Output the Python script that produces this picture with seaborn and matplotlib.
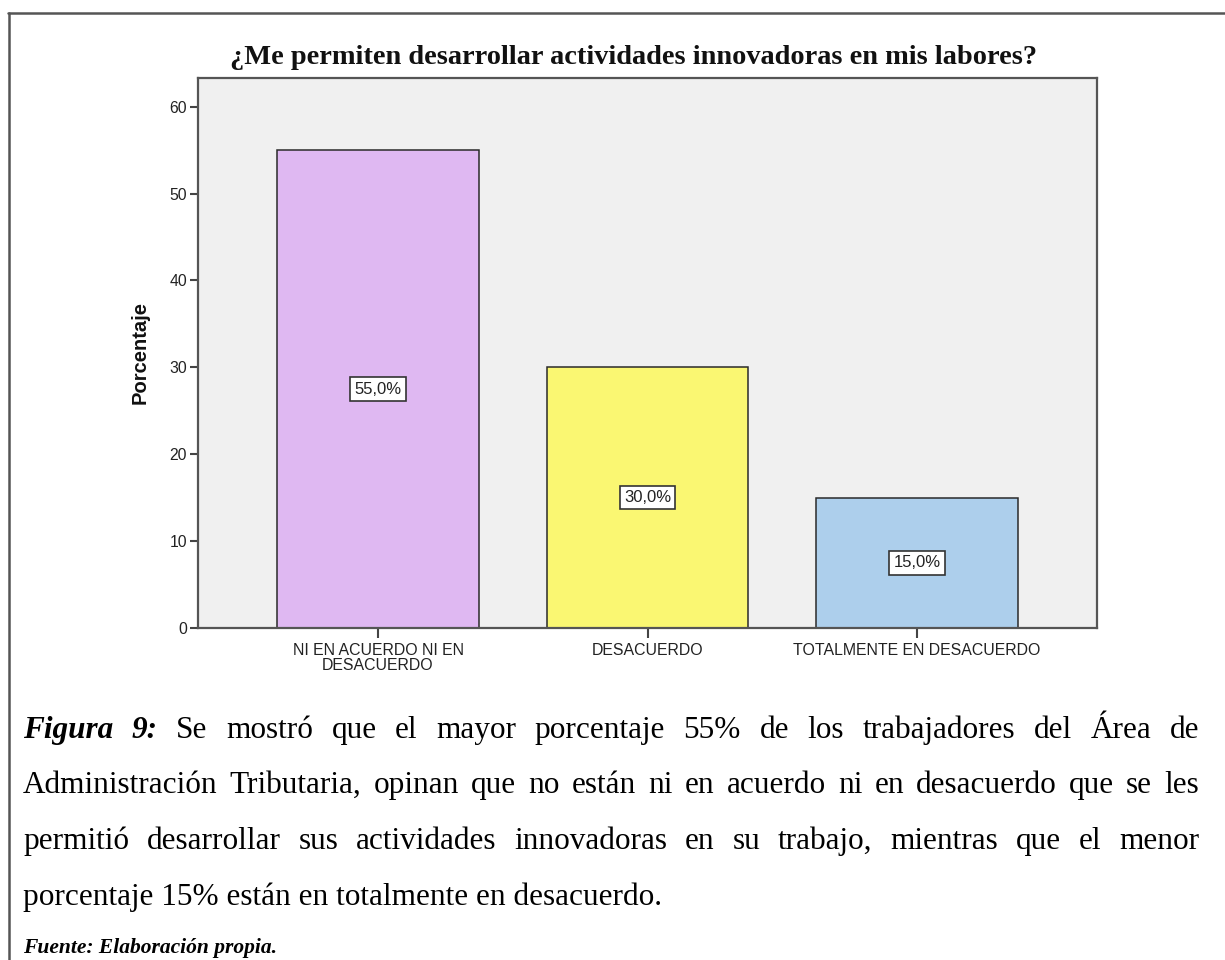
import matplotlib
matplotlib.use("Agg")
import matplotlib.pyplot as plt
from matplotlib.lines import Line2D
import seaborn as sns
import pandas as pd

# Survey answers and their share of respondents (%)
categories = ["NI EN ACUERDO NI EN\nDESACUERDO", "DESACUERDO", "TOTALMENTE EN DESACUERDO"]
percentages = [55.0, 30.0, 15.0]
bar_colors = ["#DFB8F2", "#FAF772", "#ADCFEC"]
y_ticks = [0, 10, 20, 30, 40, 50, 60]

title = "¿Me permiten desarrollar actividades innovadoras en mis labores?"
y_label = "Porcentaje"

caption_lines = [
    [("Figura", "bi"), ("9:", "bi"), ("Se", "n"), ("mostró", "n"), ("que", "n"), ("el", "n"),
     ("mayor", "n"), ("porcentaje", "n"), ("55%", "n"), ("de", "n"), ("los", "n"),
     ("trabajadores", "n"), ("del", "n"), ("Área", "n"), ("de", "n")],
    [(w, "n") for w in "Administración Tributaria, opinan que no están ni en acuerdo ni en desacuerdo que se les".split()],
    [(w, "n") for w in "permitió desarrollar sus actividades innovadoras en su trabajo, mientras que el menor".split()],
]
last_line = "porcentaje 15% están en totalmente en desacuerdo."
source_line = "Fuente: Elaboración propia."

W, H = 1225, 960

sns.set_style("white")
plt.rcParams["font.family"] = ["Liberation Sans", "DejaVu Sans"]

fig = plt.figure(figsize=(W / 100, H / 100), dpi=100)
fig.patch.set_facecolor("white")

ax = fig.add_axes([198 / W, 1 - 628 / H, 899 / W, 550 / H])
ax.set_facecolor("#F0F0F0")

df = pd.DataFrame({"cat": categories, "pct": percentages})
sns.barplot(data=df, x="cat", y="pct", hue="cat", palette=bar_colors, legend=False,
            saturation=1, width=0.746, edgecolor="#2a2a2a", linewidth=1.1, ax=ax, zorder=2)

ax.set_xlim(-0.668, 2.668)
ax.set_ylim(0, 63.3)
ax.set_yticks(y_ticks)
ax.set_yticklabels([str(t) for t in y_ticks])
ax.tick_params(axis="y", left=True, length=6, width=1.5, color="#444", labelsize=11.3,
               labelcolor="#222", pad=2)
ax.tick_params(axis="x", bottom=True, length=7, width=1.5, color="#444", labelsize=11.4,
               labelcolor="#222", pad=4)
for lbl in ax.get_xticklabels():
    lbl.set_linespacing(0.95)
for side in ["left", "right", "top", "bottom"]:
    ax.spines[side].set_visible(True)
    ax.spines[side].set_color("#555")
    ax.spines[side].set_linewidth(1.6)
ax.set_xlabel("")
ax.set_ylabel(y_label, fontsize=14.5, fontweight="bold", color="#111", labelpad=14)

# Value labels in white boxes at mid-height of each bar
for i, v in enumerate(percentages):
    ax.text(i, v / 2, f"{v:.1f}%".replace(".", ","), ha="center", va="center",
            fontsize=12, color="#222", zorder=3,
            bbox=dict(boxstyle="square,pad=0.25", facecolor="white", edgecolor="#333", linewidth=1.2))

fig.text(634 / W, 1 - 64 / H, title, ha="center", va="baseline",
         fontsize=20.4, fontweight="bold", family="Liberation Serif", color="#111")

# Page frame around the figure block
fig.add_artist(Line2D([8 / W, 1.0], [1 - 13 / H, 1 - 13 / H], transform=fig.transFigure,
                      color="#555", linewidth=1.8))
fig.add_artist(Line2D([9 / W, 9 / W], [0.0, 1 - 13 / H], transform=fig.transFigure,
                      color="#555", linewidth=1.8))

# Justified caption paragraph
styles = {"n": dict(fontstyle="normal", fontweight="normal"),
          "bi": dict(fontstyle="italic", fontweight="bold")}
cap_size = 22.5
x_left, x_right = 23, 1199
baselines = [738, 793, 849, 905]
renderer = fig.canvas.get_renderer()
for words, base in zip(caption_lines, baselines):
    texts = [fig.text(0, 0, w, family="Liberation Serif", fontsize=cap_size, color="black",
                      va="baseline", ha="left", **styles[s]) for w, s in words]
    widths = [t.get_window_extent(renderer).width for t in texts]
    gap = (x_right - x_left - sum(widths)) / (len(texts) - 1)
    x = x_left
    for t, wd in zip(texts, widths):
        t.set_position((x / W, 1 - base / H))
        x += wd + gap

fig.text(x_left / W, 1 - baselines[3] / H, last_line, family="Liberation Serif",
         fontsize=cap_size, color="black", va="baseline", ha="left")
fig.text(x_left / W, 1 - 953 / H, source_line, family="Liberation Serif",
         fontsize=15.5, fontstyle="italic", fontweight="bold", color="black", va="baseline", ha="left")

fig.savefig("out.png", dpi=100, facecolor="white")
